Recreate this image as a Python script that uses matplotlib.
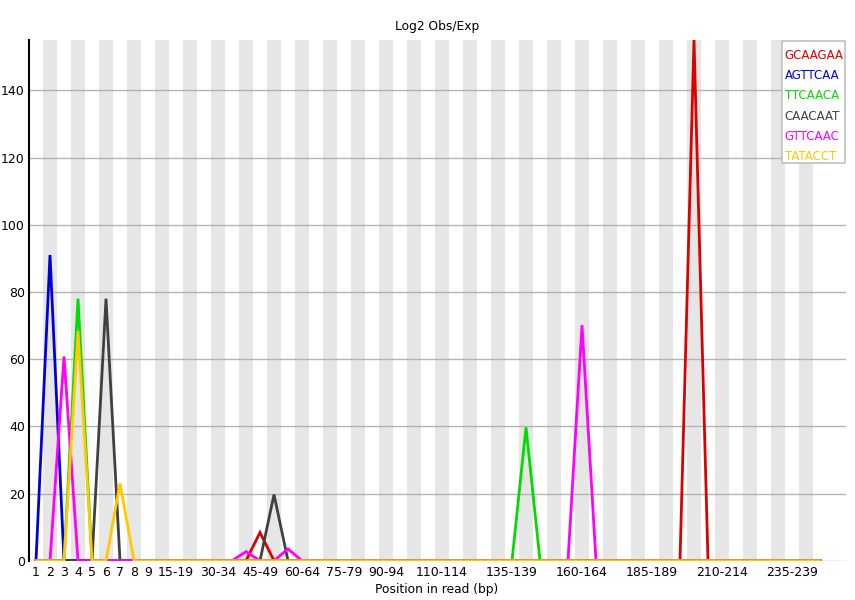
import matplotlib
matplotlib.use("Agg")
import matplotlib.pyplot as plt
from matplotlib.patches import Rectangle

categories = ["1", "2", "3", "4", "5", "6", "7", "8", "9",
              "10-14", "15-19", "20-24", "25-29", "30-34", "35-39", "40-44", "45-49",
              "50-54", "55-59", "60-64", "65-69", "70-74", "75-79", "80-84", "85-89",
              "90-94", "95-99", "100-104", "105-109", "110-114", "115-119", "120-124",
              "125-129", "130-134", "135-139", "140-144", "145-149", "150-154", "155-159",
              "160-164", "165-169", "170-174", "175-179", "180-184", "185-189", "190-194",
              "195-199", "200-204", "205-209", "210-214", "215-219", "220-224", "225-229",
              "230-234", "235-239", "240-244", "245-249"]

shown_labels = ["1", "2", "3", "4", "5", "6", "7", "8", "9", "15-19", "30-34", "45-49",
                "60-64", "75-79", "90-94", "110-114", "135-139", "160-164", "185-189",
                "210-214", "235-239"]

series_names = ["GCAAGAA", "AGTTCAA", "TTCAACA", "CAACAAT", "GTTCAAC", "TATACCT"]

GCAAGAA = [0, 0, 0, 0, 0, 0, 0, 0, 0, 0, 0, 0, 0, 0, 0, 0, 8.4, 0, 0, 0,
           0, 0, 0, 0, 0, 0, 0, 0, 0, 0, 0, 0, 0, 0, 0, 0, 0, 0, 0, 0,
           0, 0, 0, 0, 0, 0, 0, 155.0, 0, 0, 0, 0, 0, 0, 0, 0, 0]
AGTTCAA = [0, 91.0, 0, 0, 0, 0, 0, 0, 0, 0, 0, 0, 0, 0, 0, 0, 0, 0, 0, 0,
           0, 0, 0, 0, 0, 0, 0, 0, 0, 0, 0, 0, 0, 0, 0, 0, 0, 0, 0, 0,
           0, 0, 0, 0, 0, 0, 0, 0, 0, 0, 0, 0, 0, 0, 0, 0, 0]
TTCAACA = [0, 0, 0, 78.0, 0, 0, 0, 0, 0, 0, 0, 0, 0, 0, 0, 0, 0, 0, 0, 0,
           0, 0, 0, 0, 0, 0, 0, 0, 0, 0, 0, 0, 0, 0, 0, 39.7, 0, 0, 0, 0,
           0, 0, 0, 0, 0, 0, 0, 0, 0, 0, 0, 0, 0, 0, 0, 0, 0]
CAACAAT = [0, 0, 0, 0, 0, 78.0, 0, 0, 0, 0, 0, 0, 0, 0, 0, 0, 0, 19.7, 0, 0,
           0, 0, 0, 0, 0, 0, 0, 0, 0, 0, 0, 0, 0, 0, 0, 0, 0, 0, 0, 0,
           0, 0, 0, 0, 0, 0, 0, 0, 0, 0, 0, 0, 0, 0, 0, 0, 0]
GTTCAAC = [0, 0, 60.8, 0, 0, 0, 0, 0, 0, 0, 0, 0, 0, 0, 0, 2.7, 0, 0, 3.5, 0,
           0, 0, 0, 0, 0, 0, 0, 0, 0, 0, 0, 0, 0, 0, 0, 0, 0, 0, 0, 70.1,
           0, 0, 0, 0, 0, 0, 0, 0, 0, 0, 0, 0, 0, 0, 0, 0, 0]
TATACCT = [0, 0, 0, 68.3, 0, 0, 23.0, 0, 0, 0, 0, 0, 0, 0, 0, 0, 0, 0, 0, 0,
           0, 0, 0, 0, 0, 0, 0, 0, 0, 0, 0, 0, 0, 0, 0, 0, 0, 0, 0, 0,
           0, 0, 0, 0, 0, 0, 0, 0, 0, 0, 0, 0, 0, 0, 0, 0, 0]

y_ticks = [0, 20, 40, 60, 80, 100, 120, 140]

series = [GCAAGAA, AGTTCAA, TTCAACA, CAACAAT, GTTCAAC, TATACCT]
colors = ["#dc0000", "#0000dc", "#00dc00", "#404040", "#ff00ff", "#ffc800"]

W, H = 855, 600
fig = plt.figure(figsize=(W / 100, H / 100), dpi=100)
left, right, top, bottom = 29, 846, 40, 560.7
ax = fig.add_axes([left / W, (H - bottom) / H, (right - left) / W, (bottom - top) / H])

n = len(categories)
col_w = 14.0
x_right = (right - left) / col_w - 0.5
ymax = max(max(s) for s in series)

ax.set_xlim(-0.5, x_right)
ax.set_ylim(0, ymax)

# alternating stripes
for i in range(n):
    if i % 2 == 1:
        ax.axvspan(i - 0.5, i + 0.5, color="#e6e6e6", lw=0, zorder=0)

# horizontal gridlines
for yv in y_ticks:
    ax.axhline(yv, color="#b4b4b4", lw=1.0, zorder=1)

xs = list(range(n))
for s, c in zip(series, colors):
    ax.plot(xs, s, color=c, lw=2.0, zorder=3, solid_joinstyle="miter")

for sp in ["top", "right", "bottom"]:
    ax.spines[sp].set_visible(False)
ax.spines["left"].set_color("black")
ax.spines["left"].set_linewidth(1.5)

ax.set_yticks(y_ticks)
ax.set_yticklabels([str(v) for v in y_ticks], fontsize=9)
tick_pos = [categories.index(l) for l in shown_labels]
ax.set_xticks(tick_pos)
ax.set_xticklabels(shown_labels, fontsize=9)
ax.tick_params(axis="both", length=0, pad=4)
ax.tick_params(axis="y", pad=3)

fig.text(436.7 / W, 1 - 26.5 / H, "Log2 Obs/Exp", ha="center", va="center", fontsize=8.8)
fig.text(437 / W, 1 - 590 / H, "Position in read (bp)", ha="center", va="center", fontsize=8.8)

# legend box
lx0, lx1, ly0, ly1 = 781.7, 845.3, 40.7, 163.3
fig.patches.append(Rectangle((lx0 / W, 1 - ly1 / H), (lx1 - lx0) / W, (ly1 - ly0) / H,
                             transform=fig.transFigure, facecolor="white",
                             edgecolor="#c0c0c0", lw=1.2, zorder=5))
for k, (name, c) in enumerate(zip(series_names, colors)):
    fig.text(784.5 / W, 1 - (55.5 + 20.2 * k) / H, name, color=c, fontsize=8.5,
             ha="left", va="center", zorder=6)

fig.savefig("out.png", dpi=100)
